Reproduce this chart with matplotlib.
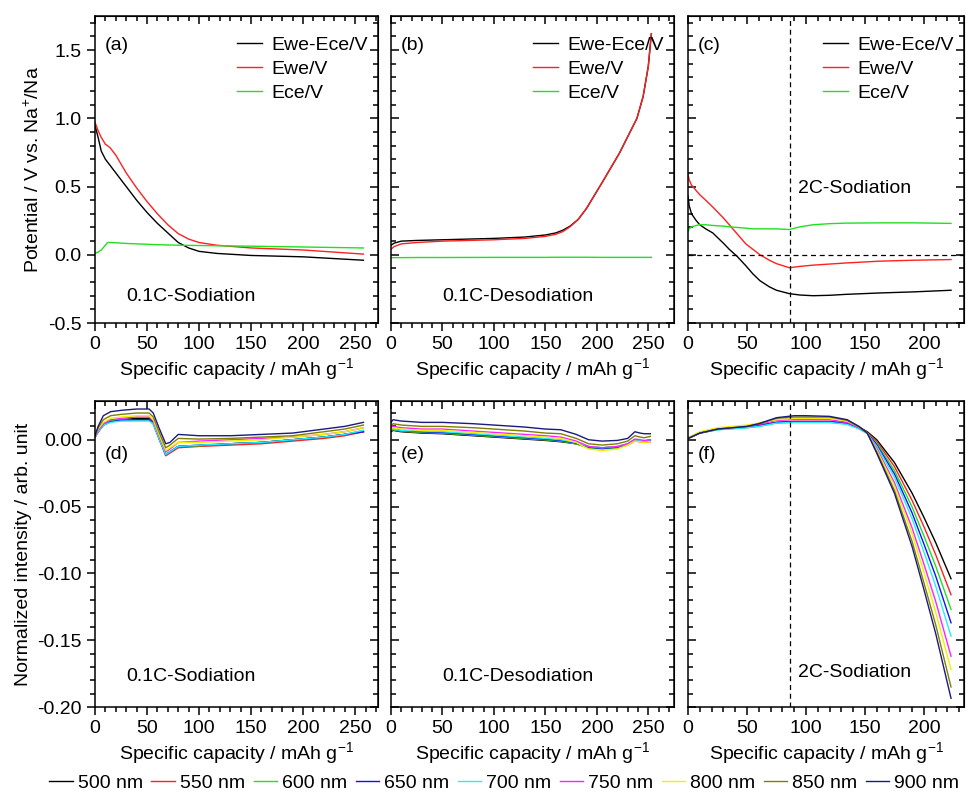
import numpy as np
import matplotlib.pyplot as plt
from matplotlib.ticker import MultipleLocator

plt.rcParams['font.family'] = ['Liberation Sans', 'DejaVu Sans']
plt.rcParams['font.size'] = 14
plt.rcParams['mathtext.fontset'] = 'custom'
plt.rcParams['mathtext.rm'] = 'Liberation Sans'

# ---- top row: potential curves ----
a_x = [0, 3, 6, 10, 12, 15, 20, 30, 40, 50, 60, 70, 80, 90, 100, 117, 150, 200, 258]
a_cell = [0.95, 0.86, 0.76, 0.70, 0.68, 0.65, 0.60, 0.50, 0.40, 0.31, 0.23, 0.16, 0.09, 0.05, 0.025, 0.01, -0.005, -0.015, -0.04]
a_we = [0.97, 0.91, 0.86, 0.81, 0.80, 0.78, 0.73, 0.60, 0.49, 0.39, 0.30, 0.22, 0.155, 0.115, 0.09, 0.07, 0.05, 0.035, 0.005]
a_ce = [0.01, 0.02, 0.035, 0.07, 0.09, 0.09, 0.088, 0.083, 0.08, 0.077, 0.074, 0.072, 0.07, 0.069, 0.068, 0.066, 0.063, 0.057, 0.05]

b_x = [0, 3, 10, 25, 50, 100, 130, 150, 160, 167, 174, 182, 190, 206, 222, 239, 245, 250, 253]
b_cell = [0.07, 0.085, 0.10, 0.105, 0.11, 0.12, 0.13, 0.145, 0.16, 0.18, 0.21, 0.26, 0.34, 0.54, 0.745, 1.0, 1.16, 1.38, 1.62]
b_we = [0.04, 0.06, 0.08, 0.09, 0.10, 0.11, 0.12, 0.135, 0.15, 0.17, 0.205, 0.26, 0.34, 0.54, 0.745, 1.0, 1.16, 1.38, 1.62]
b_ce = [-0.022, -0.021, -0.021, -0.02, -0.02, -0.019, -0.019, -0.019, -0.018, -0.018, -0.018, -0.018, -0.018, -0.019, -0.019, -0.019, -0.019, -0.019, -0.019]

c_x = [0, 1, 3, 7, 10, 15, 21, 30, 35, 42, 49, 55, 61, 69, 75, 86, 95, 106, 120, 134, 162, 191, 223]
c_cell = [0.43, 0.36, 0.30, 0.25, 0.22, 0.19, 0.16, 0.085, 0.04, -0.015, -0.08, -0.14, -0.19, -0.235, -0.26, -0.285, -0.295, -0.30, -0.297, -0.29, -0.28, -0.272, -0.26]
c_we = [0.59, 0.55, 0.51, 0.47, 0.44, 0.40, 0.35, 0.27, 0.22, 0.15, 0.08, 0.04, 0.0, -0.04, -0.065, -0.095, -0.085, -0.076, -0.068, -0.06, -0.047, -0.04, -0.035]
c_ce = [0.17, 0.19, 0.205, 0.215, 0.22, 0.22, 0.215, 0.21, 0.205, 0.20, 0.195, 0.19, 0.19, 0.19, 0.19, 0.185, 0.205, 0.22, 0.228, 0.232, 0.234, 0.234, 0.23]

pot_labels = ['Ewe-Ece/V', 'Ewe/V', 'Ece/V']
pot_colors = ['black', '#ff2020', '#20e020']

# ---- bottom row: normalized intensity, one row per wavelength (500..900 nm) ----
wavelengths = ['500 nm', '550 nm', '600 nm', '650 nm', '700 nm', '750 nm', '800 nm', '850 nm', '900 nm']
wl_colors = ['black', '#ff2020', '#20e020', '#1010ff', '#20f0ff', '#ff20ff', '#f0f000', '#808000', '#1a1a80']

d_x = [0, 3, 8, 15, 25, 40, 52, 56, 62, 68, 72, 80, 100, 130, 160, 190, 220, 240, 258]
d_y = [
    [0.002, 0.006, 0.011, 0.014, 0.015, 0.016, 0.016, 0.013, 0.001, -0.011, -0.009, -0.005, -0.0045, -0.003, -0.002, 0.0, 0.002, 0.004, 0.006],
    [0.002, 0.006, 0.011, 0.014, 0.015, 0.015, 0.015, 0.012, 0.0, -0.012, -0.010, -0.006, -0.005, -0.004, -0.003, -0.001, 0.001, 0.003, 0.006],
    [0.002, 0.006, 0.011, 0.014, 0.015, 0.015, 0.015, 0.012, 0.0, -0.011, -0.009, -0.005, -0.0045, -0.003, -0.002, 0.0, 0.002, 0.004, 0.007],
    [0.002, 0.006, 0.011, 0.0135, 0.0145, 0.015, 0.015, 0.012, 0.0, -0.011, -0.009, -0.005, -0.004, -0.003, -0.002, 0.0, 0.002, 0.004, 0.006],
    [0.002, 0.006, 0.011, 0.013, 0.014, 0.014, 0.014, 0.012, 0.0, -0.011, -0.009, -0.005, -0.004, -0.003, -0.002, 0.0, 0.002, 0.004, 0.007],
    [0.002, 0.007, 0.012, 0.015, 0.016, 0.017, 0.017, 0.014, 0.002, -0.009, -0.007, -0.002, -0.001, 0.0, 0.001, 0.002, 0.004, 0.006, 0.009],
    [0.003, 0.008, 0.013, 0.016, 0.017, 0.018, 0.018, 0.015, 0.003, -0.008, -0.006, -0.002, -0.002, -0.001, 0.0, 0.002, 0.004, 0.006, 0.009],
    [0.003, 0.009, 0.015, 0.018, 0.019, 0.020, 0.020, 0.017, 0.005, -0.006, -0.004, 0.001, 0.0005, 0.001, 0.002, 0.003, 0.006, 0.008, 0.011],
    [0.003, 0.010, 0.018, 0.021, 0.022, 0.023, 0.023, 0.020, 0.008, -0.003, -0.002, 0.004, 0.003, 0.003, 0.004, 0.005, 0.008, 0.010, 0.013],
]

e_x = [0, 2, 10, 30, 50, 80, 100, 130, 150, 165, 180, 192, 205, 220, 230, 237, 242, 246, 252]
e_y = [
    [0.006, 0.007, 0.006, 0.005, 0.0045, 0.003, 0.002, 0.0005, -0.0005, -0.0015, -0.003, -0.0055, -0.006, -0.0055, -0.0035, -0.0005, -0.001, -0.0015, -0.001],
    [0.007, 0.0075, 0.0065, 0.0055, 0.005, 0.0035, 0.0025, 0.001, 0.0, -0.001, -0.003, -0.006, -0.0065, -0.006, -0.004, -0.001, -0.0015, -0.002, -0.0015],
    [0.007, 0.0075, 0.0065, 0.0055, 0.005, 0.0035, 0.0025, 0.001, 0.0, -0.001, -0.003, -0.006, -0.007, -0.006, -0.0035, -0.0005, -0.001, -0.0015, -0.001],
    [0.007, 0.008, 0.007, 0.006, 0.0055, 0.004, 0.003, 0.0015, 0.0005, -0.0005, -0.0025, -0.0055, -0.0065, -0.0055, -0.003, 0.0, -0.0005, -0.001, 0.0],
    [0.008, 0.008, 0.007, 0.0065, 0.006, 0.0045, 0.0035, 0.002, 0.001, 0.0, -0.002, -0.005, -0.006, -0.005, -0.003, 0.0, -0.0005, -0.001, 0.0],
    [0.009, 0.010, 0.009, 0.008, 0.008, 0.0065, 0.0055, 0.004, 0.003, 0.002, -0.001, -0.005, -0.006, -0.005, -0.003, 0.0005, 0.0, -0.0005, 0.0],
    [0.008, 0.009, 0.008, 0.007, 0.007, 0.0055, 0.0045, 0.003, 0.002, 0.001, -0.002, -0.007, -0.008, -0.007, -0.004, -0.001, -0.0015, -0.002, -0.0015],
    [0.010, 0.012, 0.011, 0.010, 0.010, 0.009, 0.008, 0.0065, 0.005, 0.0045, 0.001, -0.003, -0.004, -0.003, -0.001, 0.003, 0.002, 0.0015, 0.0025],
    [0.013, 0.015, 0.014, 0.013, 0.013, 0.012, 0.011, 0.0095, 0.008, 0.0075, 0.004, 0.0, -0.001, -0.0005, 0.001, 0.006, 0.005, 0.0045, 0.0045],
]

f_x = [0, 10, 25, 50, 60, 75, 90, 100, 120, 135, 145, 152, 160, 175, 190, 200, 210, 223]
f_y = [
    [0.001, 0.005, 0.0078, 0.0095, 0.0108, 0.0128, 0.0135, 0.0135, 0.0135, 0.0125, 0.0095, 0.006, 0.0, -0.017, -0.040, -0.058, -0.077, -0.104],
    [0.001, 0.005, 0.0078, 0.0095, 0.0108, 0.013, 0.0138, 0.0138, 0.0138, 0.0125, 0.009, 0.0055, -0.0013, -0.020, -0.0454, -0.065, -0.086, -0.116],
    [0.001, 0.005, 0.0075, 0.009, 0.010, 0.0125, 0.013, 0.013, 0.013, 0.0118, 0.0085, 0.0052, -0.0026, -0.023, -0.0503, -0.072, -0.0945, -0.127],
    [0.001, 0.005, 0.0078, 0.0095, 0.0105, 0.013, 0.0135, 0.0135, 0.0135, 0.012, 0.0085, 0.005, -0.0037, -0.0255, -0.0548, -0.078, -0.102, -0.137],
    [0.001, 0.005, 0.0075, 0.009, 0.010, 0.0125, 0.013, 0.013, 0.013, 0.0115, 0.008, 0.0045, -0.0048, -0.028, -0.0592, -0.084, -0.1095, -0.147],
    [0.001, 0.005, 0.008, 0.010, 0.0115, 0.0145, 0.015, 0.015, 0.015, 0.013, 0.009, 0.005, -0.0065, -0.032, -0.066, -0.093, -0.121, -0.162],
    [0.0015, 0.006, 0.009, 0.011, 0.0125, 0.015, 0.016, 0.016, 0.016, 0.014, 0.0095, 0.005, -0.0076, -0.0345, -0.0704, -0.099, -0.129, -0.172],
    [0.001, 0.005, 0.008, 0.010, 0.012, 0.016, 0.017, 0.017, 0.017, 0.0145, 0.0095, 0.005, -0.009, -0.038, -0.0762, -0.107, -0.1385, -0.185],
    [0.001, 0.005, 0.008, 0.010, 0.012, 0.0165, 0.018, 0.018, 0.0175, 0.015, 0.010, 0.005, -0.010, -0.040, -0.080, -0.112, -0.145, -0.1935],
]

cut_2c = 86.5

fig = plt.figure(figsize=(9.66, 8), dpi=100)
W, H = 966, 800


def add_ax(x0, y0, x1, y1):
    return fig.add_axes([x0 / W, 1 - y1 / H, (x1 - x0) / W, (y1 - y0) / H])


ax_a = add_ax(95, 16, 378, 323)
ax_b = add_ax(391, 16, 674, 323)
ax_c = add_ax(688, 16, 964, 323)
ax_d = add_ax(95, 401, 378, 707)
ax_e = add_ax(391, 401, 674, 707)
ax_f = add_ax(688, 401, 964, 707)

rights = {}
for ax, left_out in [(ax_a, True), (ax_b, False), (ax_c, False),
                     (ax_d, True), (ax_e, False), (ax_f, False)]:
    for s in ax.spines.values():
        s.set_linewidth(1.1)
    ax.xaxis.set_major_locator(MultipleLocator(50))
    ax.xaxis.set_minor_locator(MultipleLocator(10))
    ax.tick_params(which='both', width=1.1, top=False, right=False)
    ax.tick_params(which='major', length=6)
    ax.tick_params(which='minor', length=3.5)
    ax.tick_params(axis='x', which='both', direction='out')
    ax.tick_params(axis='y', which='both', direction='out' if left_out else 'in')
    ax.set_xlabel('Specific capacity / mAh g$^{-1}$', labelpad=2)
    # top and right spines carry inward ticks
    top = ax.secondary_xaxis('top')
    top.xaxis.set_major_locator(MultipleLocator(50))
    top.xaxis.set_minor_locator(MultipleLocator(10))
    top.tick_params(which='both', direction='in', width=1.1, labeltop=False)
    top.tick_params(which='major', length=6)
    top.tick_params(which='minor', length=3.5)
    right = ax.secondary_yaxis('right')
    right.tick_params(which='both', direction='in', width=1.1, labelright=False)
    right.tick_params(which='major', length=6)
    right.tick_params(which='minor', length=3.5)
    rights[ax] = right

# top row
for ax, x, ys in [(ax_a, a_x, (a_cell, a_we, a_ce)),
                  (ax_b, b_x, (b_cell, b_we, b_ce)),
                  (ax_c, c_x, (c_cell, c_we, c_ce))]:
    for y, lab, col in zip(ys, pot_labels, pot_colors):
        ax.plot(x, y, color=col, lw=1.0, label=lab)
    ax.set_ylim(-0.5, 1.75)
    ax.yaxis.set_major_locator(MultipleLocator(0.5))
    ax.yaxis.set_minor_locator(MultipleLocator(0.1))
    rights[ax].yaxis.set_major_locator(MultipleLocator(0.5))
    rights[ax].yaxis.set_minor_locator(MultipleLocator(0.1))
    ax.legend(loc='upper right', bbox_to_anchor=(1.0, 0.965), frameon=False,
              handlelength=1.3, handletextpad=0.5, labelspacing=0.33,
              borderaxespad=0.2, borderpad=0.3)

ax_a.set_xlim(0, 272)
ax_b.set_xlim(0, 275)
ax_c.set_xlim(0, 234)
ax_a.yaxis.set_major_formatter(plt.FuncFormatter(lambda v, p: f'{v:.1f}'))
ax_b.tick_params(axis='y', labelleft=False)
ax_c.tick_params(axis='y', labelleft=False)
ax_a.set_ylabel('Potential / V vs. Na$^{+}$/Na', labelpad=4)

ax_c.axvline(cut_2c, color='black', ls=(0, (4, 3)), lw=0.9)
ax_c.axhline(0, color='black', ls=(0, (4, 3)), lw=0.9)

ax_a.text(0.035, 0.89, '(a)', transform=ax_a.transAxes)
ax_b.text(0.035, 0.89, '(b)', transform=ax_b.transAxes)
ax_c.text(0.035, 0.89, '(c)', transform=ax_c.transAxes)
ax_a.text(0.34, 0.085, '0.1C-Sodiation', transform=ax_a.transAxes, ha='center', va='center')
ax_b.text(0.45, 0.085, '0.1C-Desodiation', transform=ax_b.transAxes, ha='center', va='center')
ax_c.text(93, 0.485, '2C-Sodiation', ha='left', va='center')

# bottom row
lines = []
for ax, x, rows in [(ax_d, d_x, d_y), (ax_e, e_x, e_y), (ax_f, f_x, f_y)]:
    hs = []
    for y, lab, col in zip(rows, wavelengths, wl_colors):
        h, = ax.plot(x, y, color=col, lw=1.0, label=lab)
        hs.append(h)
    lines = hs
    ax.set_ylim(-0.2, 0.029)
    ax.yaxis.set_major_locator(MultipleLocator(0.05))
    ax.yaxis.set_minor_locator(MultipleLocator(0.01))
    rights[ax].yaxis.set_major_locator(MultipleLocator(0.05))
    rights[ax].yaxis.set_minor_locator(MultipleLocator(0.01))

ax_d.set_xlim(0, 272)
ax_e.set_xlim(0, 275)
ax_f.set_xlim(0, 234)
ax_d.yaxis.set_major_formatter(plt.FuncFormatter(lambda v, p: f'{v:.2f}'))
ax_e.tick_params(axis='y', labelleft=False)
ax_f.tick_params(axis='y', labelleft=False)
ax_d.set_ylabel('Normalized intensity / arb. unit', labelpad=4)
ax_f.axvline(cut_2c, color='black', ls=(0, (4, 3)), lw=0.9)

ax_d.text(0.035, 0.81, '(d)', transform=ax_d.transAxes)
ax_e.text(0.035, 0.81, '(e)', transform=ax_e.transAxes)
ax_f.text(0.035, 0.81, '(f)', transform=ax_f.transAxes)
ax_d.text(0.34, 0.1, '0.1C-Sodiation', transform=ax_d.transAxes, ha='center', va='center')
ax_e.text(0.45, 0.1, '0.1C-Desodiation', transform=ax_e.transAxes, ha='center', va='center')
ax_f.text(93, -0.174, '2C-Sodiation', ha='left', va='center')

fig.legend(lines, wavelengths, loc='center', bbox_to_anchor=(0.522, 0.021), ncol=9,
           frameon=False, handlelength=1.2, handletextpad=0.25, columnspacing=0.45)

fig.savefig('out.png', dpi=100)
